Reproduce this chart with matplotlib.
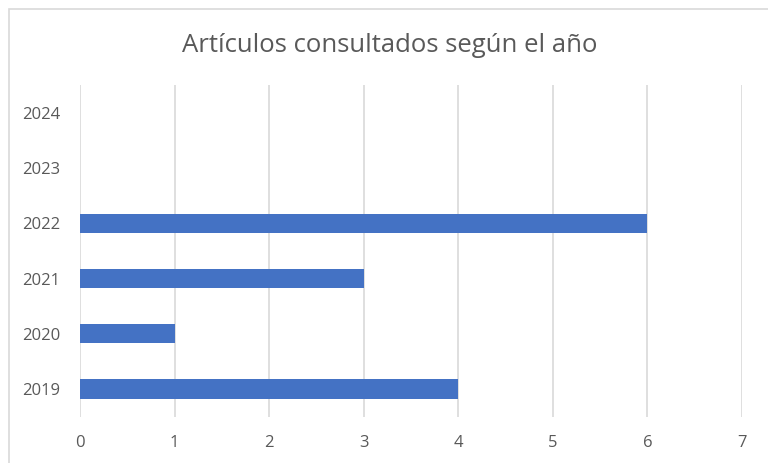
import matplotlib
matplotlib.use("Agg")
import matplotlib.pyplot as plt
from matplotlib.patches import Rectangle

years = ["2019", "2020", "2021", "2022", "2023", "2024"]
articulos = [4, 1, 3, 6, 0, 0]
xticks = [0, 1, 2, 3, 4, 5, 6, 7]

plt.rcParams['font.family'] = ['Open Sans', 'DejaVu Sans']

fig = plt.figure(figsize=(7.68, 4.63), dpi=100)
ax = fig.add_axes([80/768, 1-416.6/463, 662/768, 331.2/463])

ax.barh(years, articulos, height=0.345, color="#4472C4", zorder=3)
ax.set_xlim(0, 7)
ax.set_ylim(-0.5, 5.5)
ax.set_xticks(xticks)
ax.grid(axis="x", color="#D9D9D9", linewidth=1.2, zorder=0)
for s in ax.spines.values():
    s.set_visible(False)
ax.tick_params(length=0, labelsize=12, labelcolor="#595959")
ax.tick_params(axis="x", pad=13)
ax.tick_params(axis="y", pad=14)

fig.text(390/768, 1-45/463, "Artículos consultados según el año",
         ha="center", va="center", fontsize=18.5, color="#595959")

# borde del gráfico
fig.patches.append(Rectangle((9/768, -0.01), 1.0, 1-9/463+0.01, transform=fig.transFigure,
                             fill=False, edgecolor="#D9D9D9", linewidth=1.2))

fig.savefig("out.png", dpi=100)
